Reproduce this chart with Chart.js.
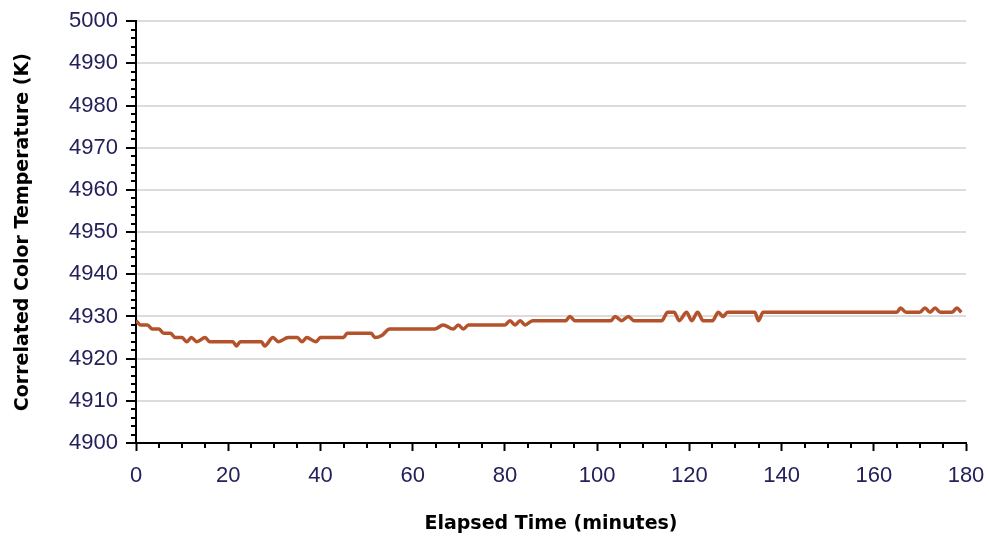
<!DOCTYPE html>
<html>
<head>
<meta charset="utf-8">
<title>Correlated Color Temperature</title>
<script src="https://cdn.jsdelivr.net/npm/chart.js@4.4.1/dist/chart.umd.min.js"></script>
<style>
    html, body { margin: 0; padding: 0; background: #fff; }
    #wrap { position: relative; width: 989px; height: 538px; }
</style>
</head>
<body>
<div id="wrap"><canvas id="cctChart"></canvas></div>
<script>
// Datos (minutos transcurridos / temperatura en K)
const minutes = [0, 1, 2.5, 3.5, 5, 6, 7.5, 8.5, 10, 11, 12, 13.2, 15, 16, 21, 21.8, 22.6, 27.2, 27.9, 29.7,
    30.9, 33, 35, 36, 37, 39, 40, 45, 45.8, 51, 51.8, 53.3, 55, 64.8, 66.6, 68.8, 69.9, 71, 72.1, 80,
    81.1, 82.2, 83.3, 84.4, 86, 93.2, 94.1, 95.2, 103, 103.9, 105.3, 106.8, 108, 114, 115.3, 116.7, 117.8, 119.4, 120.5, 121.8,
    123, 125, 126.3, 127.3, 128.3, 134.2, 135, 136, 165, 165.8, 167, 170, 171.1, 172.2, 173.3, 174.4, 177, 178, 179];
const cctK = [4929, 4928, 4928, 4927, 4927, 4926, 4926, 4925, 4925, 4924, 4925, 4924, 4925, 4924, 4924, 4923, 4924, 4924, 4923, 4925,
    4924, 4925, 4925, 4924, 4925, 4924, 4925, 4925, 4926, 4926, 4925, 4925.5, 4927, 4927, 4928, 4927, 4928, 4927, 4928, 4928,
    4929, 4928, 4929, 4928, 4929, 4929, 4930, 4929, 4929, 4930, 4929, 4930, 4929, 4929, 4931, 4931, 4929, 4931, 4929, 4931,
    4929, 4929, 4931, 4930, 4931, 4931, 4929, 4931, 4931, 4932, 4931, 4931, 4932, 4931, 4932, 4931, 4931, 4932, 4931];

// Etiquetas de los ejes
const xTickValues = [0, 20, 40, 60, 80, 100, 120, 140, 160, 180];
const yTickValues = [4900, 4910, 4920, 4930, 4940, 4950, 4960, 4970, 4980, 4990, 5000];
const xMinorStep = 5;
const yMinorStep = 2;

const points = minutes.map((m, i) => ({ x: m, y: cctK[i] }));

// Marcas menores de los ejes (Chart.js no las trae)
const minorTicks = {
    id: 'minorTicks',
    afterDraw(chart) {
        const { ctx, chartArea, scales: { x, y } } = chart;
        ctx.save();
        ctx.strokeStyle = '#000';
        ctx.lineWidth = 2;
        ctx.beginPath();
        const yFirst = yTickValues[0], yLast = yTickValues[yTickValues.length - 1];
        for (let v = yFirst; v <= yLast; v += yMinorStep) {
            if (yTickValues.includes(v)) continue;
            const py = Math.round(y.getPixelForValue(v));
            ctx.moveTo(chartArea.left - 5, py);
            ctx.lineTo(chartArea.left + 1, py);
        }
        const xFirst = xTickValues[0], xLast = xTickValues[xTickValues.length - 1];
        for (let v = xFirst; v <= xLast; v += xMinorStep) {
            if (xTickValues.includes(v)) continue;
            const px = Math.round(x.getPixelForValue(v));
            ctx.moveTo(px, chartArea.bottom);
            ctx.lineTo(px, chartArea.bottom + 5);
        }
        ctx.stroke();
        ctx.restore();
    }
};

const tickFont = { family: '"Liberation Sans", Arial, sans-serif', size: 22 };
const titleFont = { family: '"DejaVu Sans", sans-serif', size: 19, weight: 'bold' };

new Chart(document.getElementById('cctChart').getContext('2d'), {
    type: 'line',
    data: {
        datasets: [{
            label: 'CCT',
            data: points,
            borderColor: '#b4522b',
            borderWidth: 3.5,
            pointRadius: 0,
            cubicInterpolationMode: 'monotone',
            fill: false
        }]
    },
    options: {
        responsive: true,
        maintainAspectRatio: false,
        animation: false,
        layout: { padding: { top: 19, right: 23, bottom: 0, left: 0 } },
        plugins: {
            legend: { display: false },
            tooltip: { enabled: false }
        },
        scales: {
            x: {
                type: 'linear',
                min: xTickValues[0],
                max: xTickValues[xTickValues.length - 1],
                afterBuildTicks: (scale) => { scale.ticks = xTickValues.map(v => ({ value: v })); },
                afterFit: (scale) => {
                    scale.height = 95;
                    scale.paddingLeft = 0;
                    scale.paddingRight = 0;
                },
                border: { color: '#000', width: 2 },
                grid: { drawOnChartArea: false, tickColor: '#000', tickLength: 8, tickWidth: 2 },
                ticks: { color: '#23205a', font: tickFont, padding: 12, maxRotation: 0, callback: (v) => String(v) },
                title: { display: true, text: 'Elapsed Time (minutes)', color: '#000', font: titleFont, padding: { top: 20, bottom: 3 } }
            },
            y: {
                min: yTickValues[0],
                max: yTickValues[yTickValues.length - 1],
                afterBuildTicks: (scale) => { scale.ticks = yTickValues.map(v => ({ value: v })); },
                afterFit: (scale) => { scale.width = 136; },
                border: { color: '#000', width: 2 },
                grid: { color: '#dcdcdc', lineWidth: 2, tickColor: '#000', tickLength: 10, tickWidth: 2 },
                ticks: { color: '#23205a', font: tickFont, padding: 8, callback: (v) => String(v) },
                title: { display: true, text: 'Correlated Color Temperature (K)', color: '#000', font: titleFont, padding: { top: 12, bottom: 0 } }
            }
        }
    },
    plugins: [minorTicks]
});
</script>
</body>
</html>
